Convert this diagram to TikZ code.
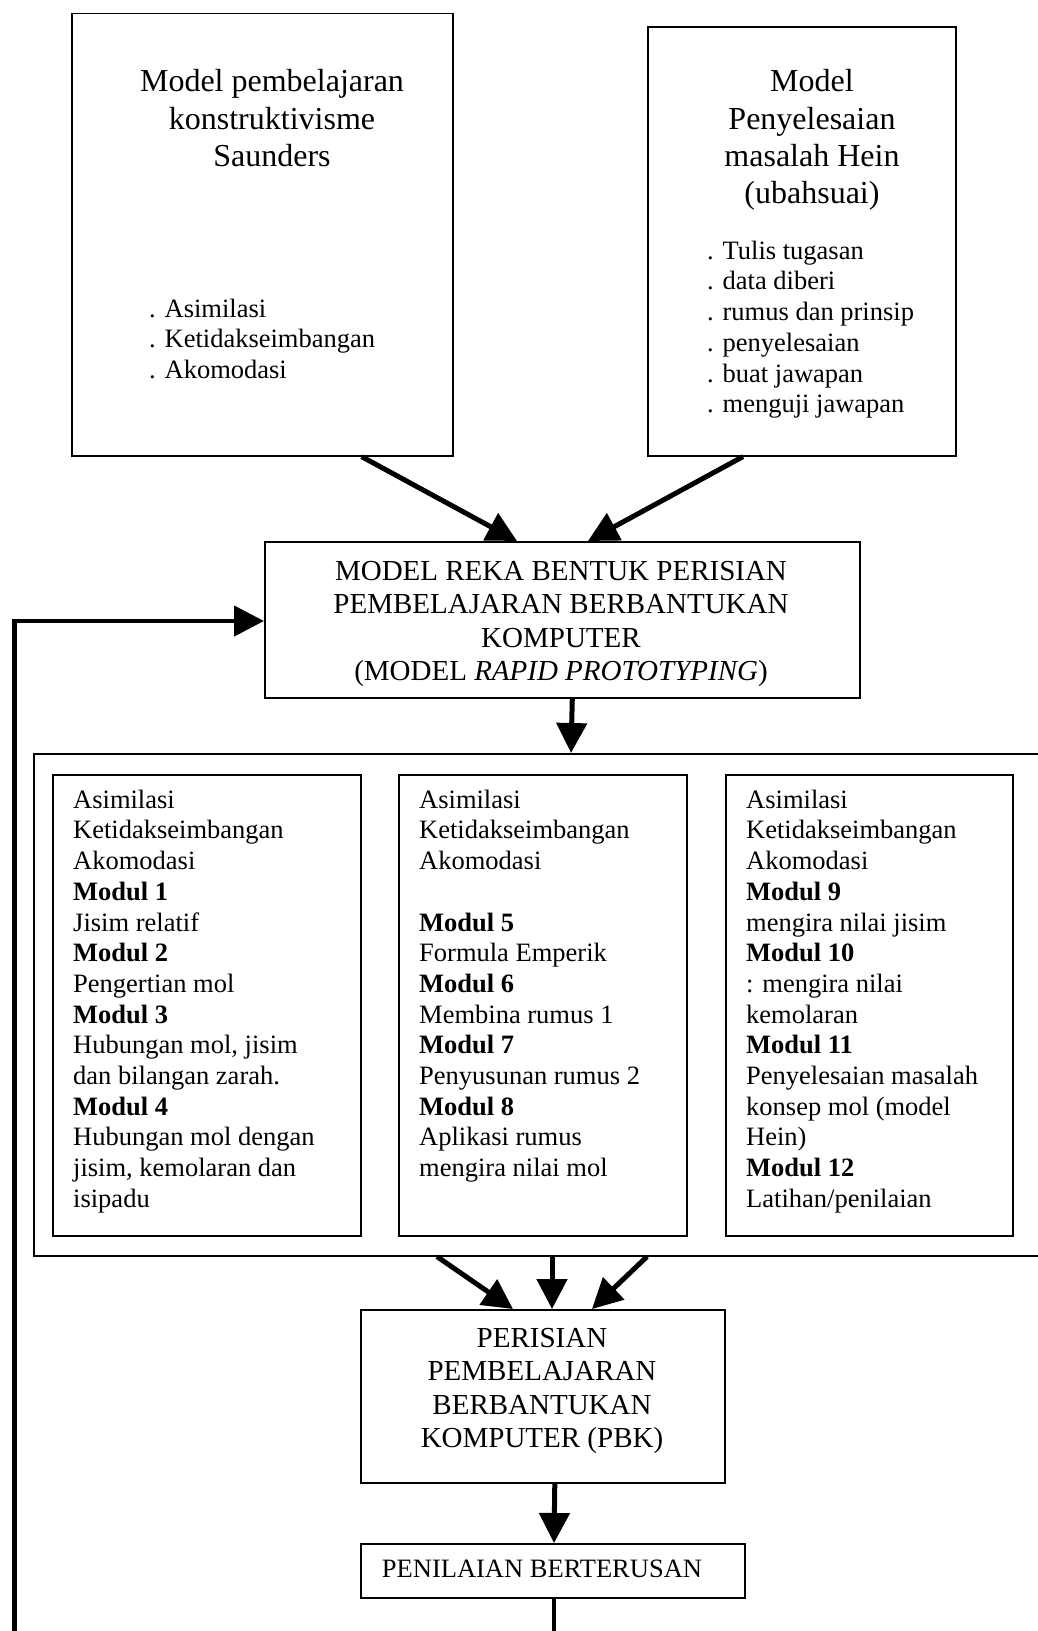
\documentclass[tikz,border=0pt]{standalone}
\usepackage{fontspec}
\setmainfont{Liberation Serif}
\usetikzlibrary{arrows.meta}
\newcommand{\fA}{\fontsize{26.5}{30.7}\selectfont}
\newcommand{\fT}{\fontsize{32}{37.4}\selectfont}
\newcommand{\fM}{\fontsize{29}{33.5}\selectfont}
\begin{document}
\begin{tikzpicture}[x=1pt,y=-1pt,
  box/.style={draw=black,line width=1.6pt,rectangle,inner sep=0pt,anchor=north west},
  txt/.style={inner sep=0pt,font=\fA},
  arr/.style={line width=5pt,-{Triangle[length=30pt,width=30pt]}},
  fb/.style={line width=4.5pt}]
\useasboundingbox (0,0) rectangle (1037,1631);
% top boxes
\node[box,minimum width=381pt,minimum height=442.5pt] (tl) at (71,12.5) {};
\node[box,minimum width=308pt,minimum height=429pt] (tr) at (647,26) {};
\node[inner sep=0pt,font=\fT,align=center,anchor=north] (tlt) at (272,65.3)
  {\rule{0pt}{26.2pt}Model pembelajaran\\konstruktivisme\\Saunders};
\node[txt,align=left,anchor=north west] (tll) at (149,295.5)
  {\rule{0pt}{21.5pt}. Asimilasi\\. Ketidakseimbangan\\. Akomodasi};
\node[inner sep=0pt,font=\fT,align=center,anchor=north] (trt) at (812,65.3)
  {\rule{0pt}{26.2pt}Model\\Penyelesaian\\masalah Hein\\(ubahsuai)};
\node[txt,align=left,anchor=north west] (trl) at (707,237.5)
  {\rule{0pt}{21.5pt}. Tulis tugasan\\. data diberi\\. rumus dan prinsip\\. penyelesaian\\. buat jawapan\\. menguji jawapan};
% middle box
\node[box,minimum width=595pt,minimum height=156pt] (mid) at (264,541) {};
\node[inner sep=0pt,font=\fM,align=center,anchor=north] (midt) at (561,557)
  {\rule{0pt}{23pt}MODEL REKA BENTUK PERISIAN\\PEMBELAJARAN BERBANTUKAN\\KOMPUTER\\(MODEL \textit{RAPID PROTOTYPING})};
% container
\node[box,minimum width=1030pt,minimum height=502pt] (cont) at (33,753) {};
\node[box,minimum width=308pt,minimum height=461pt] (b1) at (52,774) {};
\node[box,minimum width=288pt,minimum height=461pt] (b2) at (398,774) {};
\node[box,minimum width=287pt,minimum height=461pt] (b3) at (725,774) {};
\node[txt,align=left,anchor=north west] (b1t) at (73,786.5)
  {\rule{0pt}{21.5pt}Asimilasi\\Ketidakseimbangan\\Akomodasi\\\textbf{Modul 1}\\Jisim relatif\\\textbf{Modul 2}\\Pengertian mol\\\textbf{Modul 3}\\Hubungan mol, jisim\\dan bilangan zarah.\\\textbf{Modul 4}\\Hubungan mol dengan\\jisim, kemolaran dan\\isipadu};
\node[txt,align=left,anchor=north west] (b2t) at (419,786.5)
  {\rule{0pt}{21.5pt}Asimilasi\\Ketidakseimbangan\\Akomodasi\\[30.7pt]\textbf{Modul 5}\\Formula Emperik\\\textbf{Modul 6}\\Membina rumus 1\\\textbf{Modul 7}\\Penyusunan rumus 2\\\textbf{Modul 8}\\Aplikasi rumus\\mengira nilai mol};
\node[txt,align=left,anchor=north west] (b3t) at (746,786.5)
  {\rule{0pt}{21.5pt}Asimilasi\\Ketidakseimbangan\\Akomodasi\\\textbf{Modul 9}\\mengira nilai jisim\\\textbf{Modul 10}\\: mengira nilai\\kemolaran\\\textbf{Modul 11}\\Penyelesaian masalah\\konsep mol (model\\Hein)\\\textbf{Modul 12}\\Latihan/penilaian};
% PBK box
\node[box,minimum width=364pt,minimum height=173pt] (pbk) at (360,1309) {};
\node[inner sep=0pt,font=\fM,align=center,anchor=north] (pbkt) at (542,1324)
  {\rule{0pt}{23pt}PERISIAN\\PEMBELAJARAN\\BERBANTUKAN\\KOMPUTER (PBK)};
% penilaian
\node[box,minimum width=384pt,minimum height=54pt] (pen) at (360,1543) {};
\node[txt,anchor=base] (pent) at (542,1577) {PENILAIAN BERTERUSAN};
% bottom coordinates
\coordinate (bl) at (14.6,1640);
\coordinate (bm) at (554,1640);
\coordinate (fbc) at (14.6,621);
% arrows
\draw[arr] ([xshift=-92pt]tl.south east) -- ([xshift=253pt]mid.north west);
\draw[arr] ([xshift=96pt]tr.south west) -- ([xshift=324pt]mid.north west);
\draw[arr] ([xshift=10pt]mid.south) -- ([xshift=538pt]cont.north west);
\draw[arr] ([xshift=404pt]cont.south west) -- ([xshift=153pt]pbk.north west);
\draw[arr] ([xshift=519pt]cont.south west) -- ([xshift=192pt]pbk.north west);
\draw[arr] ([xshift=614pt]cont.south west) -- ([xshift=232pt]pbk.north west);
\draw[arr] ([xshift=12pt]pbk.south) -- ([xshift=194pt]pen.north west);
\draw[fb] ([xshift=194pt]pen.south west) -- (bm);
\draw[fb,-{Triangle[length=30pt,width=30pt]}] (bl) -- (fbc) -- (mid.west |- fbc);
\end{tikzpicture}
\end{document}
